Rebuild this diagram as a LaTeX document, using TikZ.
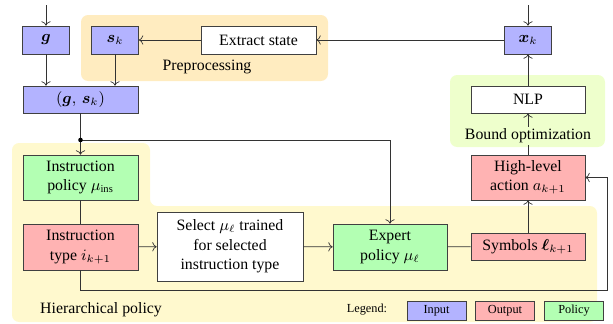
\documentclass[tikz,border=0pt]{standalone}
\usepackage{amsmath,amssymb,bm}
\usepackage{fontspec}
\setmainfont{Liberation Serif}
\usepackage{tikz}
\usetikzlibrary{calc,positioning,arrows.meta}
\definecolor{InBlue}{RGB}{179,179,255}
\definecolor{OutRed}{RGB}{255,179,179}
\definecolor{PolGreen}{RGB}{179,255,179}
\definecolor{PreOrange}{RGB}{255,236,192}
\definecolor{HierYellow}{RGB}{255,249,206}
\definecolor{BoundLime}{RGB}{238,255,204}
\begin{document}
\begin{tikzpicture}[font=\small,draw=black!80,
  blk/.style={draw=black!75,minimum height=0.56cm,inner sep=1pt,align=center},
  inbox/.style={blk,fill=InBlue},outbox/.style={blk,fill=OutRed},polbox/.style={blk,fill=PolGreen},wbox/.style={blk,fill=white},
  legbox/.style={blk,font=\scriptsize,minimum width=1.18cm,minimum height=0.38cm}]
\useasboundingbox (0,0) rectangle (12.26,-6.46);
\fill[PreOrange,rounded corners=4pt] (1.62,-0.30) rectangle (6.56,-1.62);
\fill[BoundLime,rounded corners=4pt] (9.00,-1.50) rectangle (12.10,-2.94);
\fill[HierYellow,rounded corners=4pt] (0.24,-2.86)--(3.00,-2.86)--(3.00,-4.12)--(11.94,-4.12)--(11.94,-6.44)--(0.24,-6.44)--cycle;
\node[inbox,minimum width=0.94cm] (g) at (0.92,-0.80) {$\boldsymbol{g}$};
\node[inbox,minimum width=0.94cm] (s) at (2.30,-0.80) {$\boldsymbol{s}_k$};
\node[wbox,minimum width=2.30cm] (ext) at (5.17,-0.80) {Extract state};
\node[inbox,minimum width=0.94cm] (x) at (10.56,-0.80) {$\boldsymbol{x}_k$};
\node[inbox,minimum width=2.30cm,minimum height=0.54cm] (gs) at (1.61,-1.99) {$(\boldsymbol{g},\,\boldsymbol{s}_k)$};
\node[polbox,minimum width=2.30cm,minimum height=0.90cm] (ipol) at (1.61,-3.55) {Instruction\\policy $\mu_{\text{ins}}$};
\node[outbox,minimum width=2.30cm,minimum height=0.92cm] (itype) at (1.61,-4.94) {Instruction\\type $i_{k+1}$};
\node[wbox,minimum width=2.92cm,minimum height=1.38cm] (sel) at (4.60,-4.93) {Select $\mu_\ell$ trained\\for selected\\instruction type};
\node[polbox,minimum width=2.28cm,minimum height=0.92cm] (exp) at (7.80,-4.94) {Expert\\policy $\mu_\ell$};
\node[outbox,minimum width=2.28cm,minimum height=0.54cm] (sym) at (10.56,-4.93) {Symbols $\boldsymbol{\ell}_{k+1}$};
\node[outbox,minimum width=2.28cm,minimum height=0.90cm] (act) at (10.56,-3.55) {High-level\\action $a_{k+1}$};
\node[wbox,minimum width=2.28cm,minimum height=0.54cm] (nlp) at (10.56,-1.99) {NLP};
\coordinate (gin) at (0.92,-0.10);\coordinate (xin) at (10.56,-0.10);
\coordinate (dot) at (1.61,-2.80);\coordinate (fb) at (12.14,-5.80);
\draw[->] (gin)--(g);\draw[->] (xin)--(x);
\draw[->] (g)--(g|-gs.north);\draw[->] (s)--(s|-gs.north);
\draw[->] (x)--(ext);\draw[->] (ext)--(s);
\draw (gs)--(dot);\draw[->] (dot)--(ipol);\draw[->] (dot)-|(exp);\fill (dot) circle (1.3pt);
\draw (ipol)--(itype);\draw[->] (itype)--(sel);\draw[->] (sel)--(exp);
\draw (exp)--(sym);\draw[->] (sym)--(act);\draw[->] (act)--(nlp);\draw[->] (nlp)--(x);
\draw[->] (itype.south)|-(fb)|-(act.east);
\node (pre) at (4.14,-1.34) {Preprocessing};
\node[fill=BoundLime,inner sep=1pt] (bnd) at (10.56,-2.72) {Bound optimization};
\node (hier) at (2.02,-6.20) {Hierarchical policy};
\node[font=\scriptsize] (leg) at (7.34,-6.20) {Legend:};
\node[legbox,fill=InBlue] (lin) at (8.73,-6.21) {Input};
\node[legbox,fill=OutRed] (lout) at (10.10,-6.21) {Output};
\node[legbox,fill=PolGreen] (lpol) at (11.48,-6.21) {Policy};
\end{tikzpicture}
\end{document}
